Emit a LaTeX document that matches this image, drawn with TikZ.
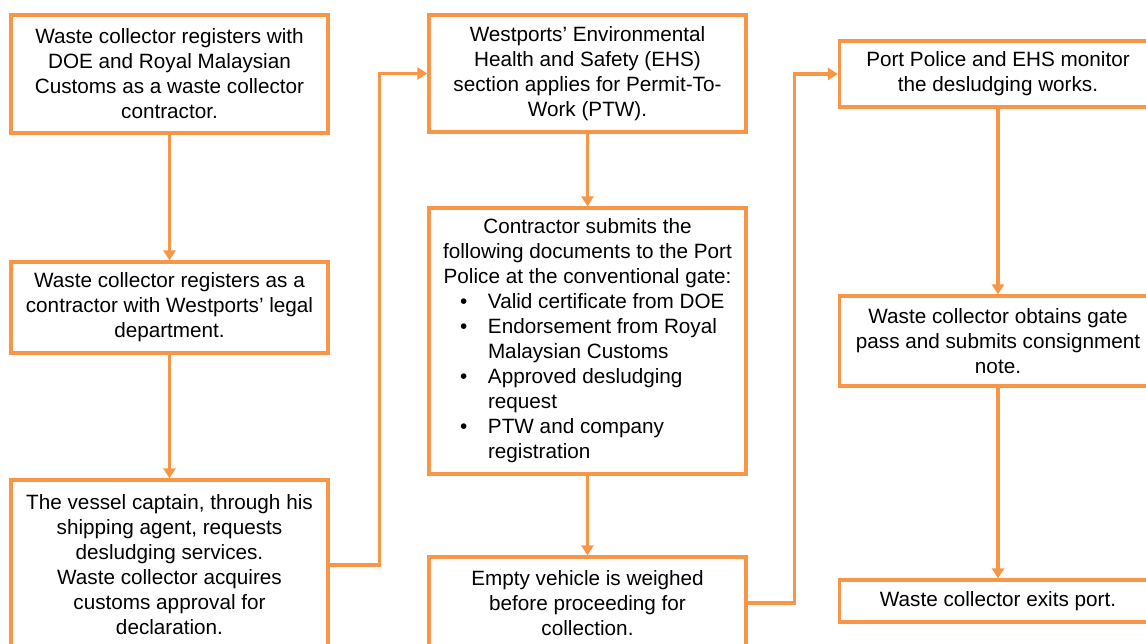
\documentclass[tikz,border=0pt]{standalone}
\usepackage{fontspec}
\setmainfont{Liberation Sans}
\usetikzlibrary{arrows.meta,shadows}
\definecolor{accent}{RGB}{247,150,70}
\tikzset{
  stepbox/.style={draw=accent, line width=3.3pt, fill=white, align=center,
    inner sep=0pt, minimum width=317pt,
    font=\fontsize{20.7}{25}\selectfont,
    drop shadow={opacity=0.25, shadow xshift=1.5pt, shadow yshift=-1.5pt}},
  link/.style={draw=accent, line width=3.3pt,
    -{Triangle[width=12pt,length=10pt]}}
}
\newcommand{\bulletline}[1]{\makebox[295pt][l]{\makebox[48pt][l]{\hspace*{20pt}\textbullet}#1}}
\newcommand{\contline}[1]{\makebox[295pt][l]{\hspace*{48pt}#1}}
\begin{document}
\begin{tikzpicture}[x=1pt,y=-1pt]
\useasboundingbox (0,0) rectangle (1146,643);
\clip (0,0) rectangle (1146,643);
\fill[white] (0,0) rectangle (1146,643);
% column 1
\node[stepbox, minimum height=118pt] (A) at (169.5,74)
  {Waste collector registers with\\DOE and Royal Malaysian\\Customs as a waste collector\\contractor.};
\node[stepbox, minimum height=91pt] (B) at (169.5,307.5)
  {Waste collector registers as a\\contractor with Westports' legal\\department.};
\node[stepbox, minimum height=170pt] (C) at (169.5,565)
  {The vessel captain, through his\\shipping agent, requests\\desludging services.\\Waste collector acquires\\customs approval for\\declaration.};
% column 2
\node[stepbox, minimum height=117pt] (D) at (587.5,73.5)
  {Westports' Environmental\\Health and Safety (EHS)\\section applies for Permit-To-\\Work (PTW).};
\node[stepbox, minimum height=266pt] (E) at (587.5,341)
  {Contractor submits the\\following documents to the Port\\Police at the conventional gate:\\
   \bulletline{Valid certificate from DOE}\\
   \bulletline{Endorsement from Royal}\\
   \contline{Malaysian Customs}\\
   \bulletline{Approved desludging}\\
   \contline{request}\\
   \bulletline{PTW and company}\\
   \contline{registration}};
\node[stepbox, minimum height=92pt] (F) at (587.5,603)
  {Empty vehicle is weighed\\before proceeding for\\collection.};
% column 3
\node[stepbox, minimum height=66pt] (G) at (998,74)
  {Port Police and EHS monitor\\the desludging works.};
\node[stepbox, minimum height=90pt] (H) at (998,341)
  {Waste collector obtains gate\\pass and submits consignment\\note.};
\node[stepbox, minimum height=42pt] (I) at (998,601)
  {Waste collector exits port.};
% connectors
\draw[link] (A.south) -- (B.north);
\draw[link] (B.south) -- (C.north);
\draw[link] (C.east) -- ++(50,0) |- (D.west);
\draw[link] (D.south) -- (E.north);
\draw[link] (E.south) -- (F.north);
\draw[link] (F.east) -- ++(47,0) |- (G.west);
\draw[link] (G.south) -- (H.north);
\draw[link] (H.south) -- (I.north);
\end{tikzpicture}
\end{document}
